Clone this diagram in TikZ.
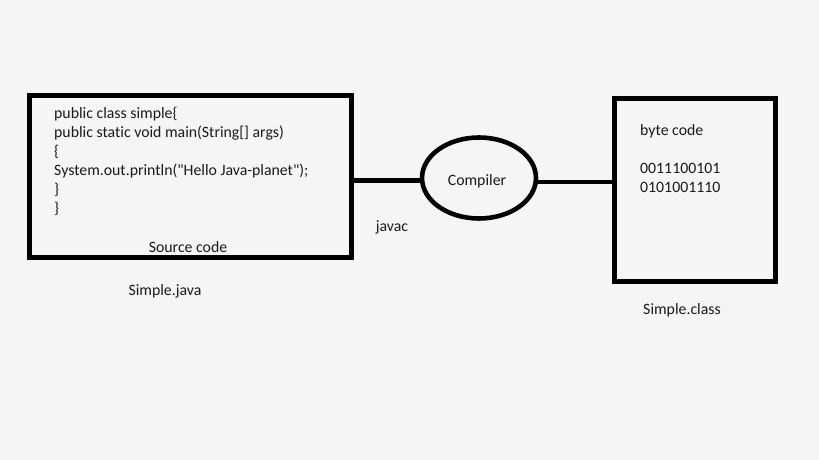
\documentclass[tikz,border=0pt]{standalone}
\usepackage{fontspec}
\newfontfamily\labelfont{Carlito}[Ligatures=NoCommon]
\usetikzlibrary{shapes.geometric}
\definecolor{paper}{HTML}{F5F5F5}
\definecolor{ink}{HTML}{1A1A1A}
\tikzset{
	box/.style={draw=black,line width=5pt,minimum width=#1,inner sep=0pt},
	lbl/.style={inner sep=0pt,text=ink,font=\labelfont\fontsize{15.8pt}{15.8pt}\selectfont},
	wire/.style={line width=4.6pt}
}
\begin{document}
\begin{tikzpicture}[x=1pt,y=-1pt]
	\fill[paper] (0,0) rectangle (819,460);
	\useasboundingbox (0,0) rectangle (819,460);
	\node[box=322pt,minimum height=162pt] (source) at (190.5,176.5) {};
	\node[box=161pt,minimum height=183pt] (target) at (695,190) {};
	\node[draw,ellipse,line width=4.6pt,minimum width=114pt,minimum height=81pt,inner sep=0pt] (comp) at (479,178) {};
	\coordinate (inL) at (421,180.5);
	\coordinate (outR) at (537,182);
	\draw[wire] (source.east |- inL) -- (inL);
	\draw[wire] (outR) -- (target.west |- outR);
	\node[lbl,anchor=base west] (l1) at (54,118) {public class simple\{};
	\node[lbl,anchor=base west] (l2) at (54,137) {public static void main(String[] args)};
	\node[lbl,anchor=base west] (l3) at (54,156) {\{};
	\node[lbl,anchor=base west] (l4) at (54,175) {System.out.println("Hello Java-planet");};
	\node[lbl,anchor=base west] (l5) at (54,194) {\}};
	\node[lbl,anchor=base west] (l6) at (54,213) {\}};
	\node[lbl,anchor=base] (srclbl) at (188,252) {Source code};
	\node[lbl,anchor=base] (srcfile) at (165,295) {Simple.java};
	\node[lbl,anchor=base] (complbl) at (477,185) {Compiler};
	\node[lbl,anchor=base] (javac) at (392,231) {javac};
	\node[lbl,anchor=base west] (bc) at (640,135) {byte code};
	\node[lbl,anchor=base west] (b1) at (640,173) {0011100101};
	\node[lbl,anchor=base west] (b2) at (640,192) {0101001110};
	\node[lbl,anchor=base] (tgtfile) at (682,314) {Simple.class};
\end{tikzpicture}
\end{document}
